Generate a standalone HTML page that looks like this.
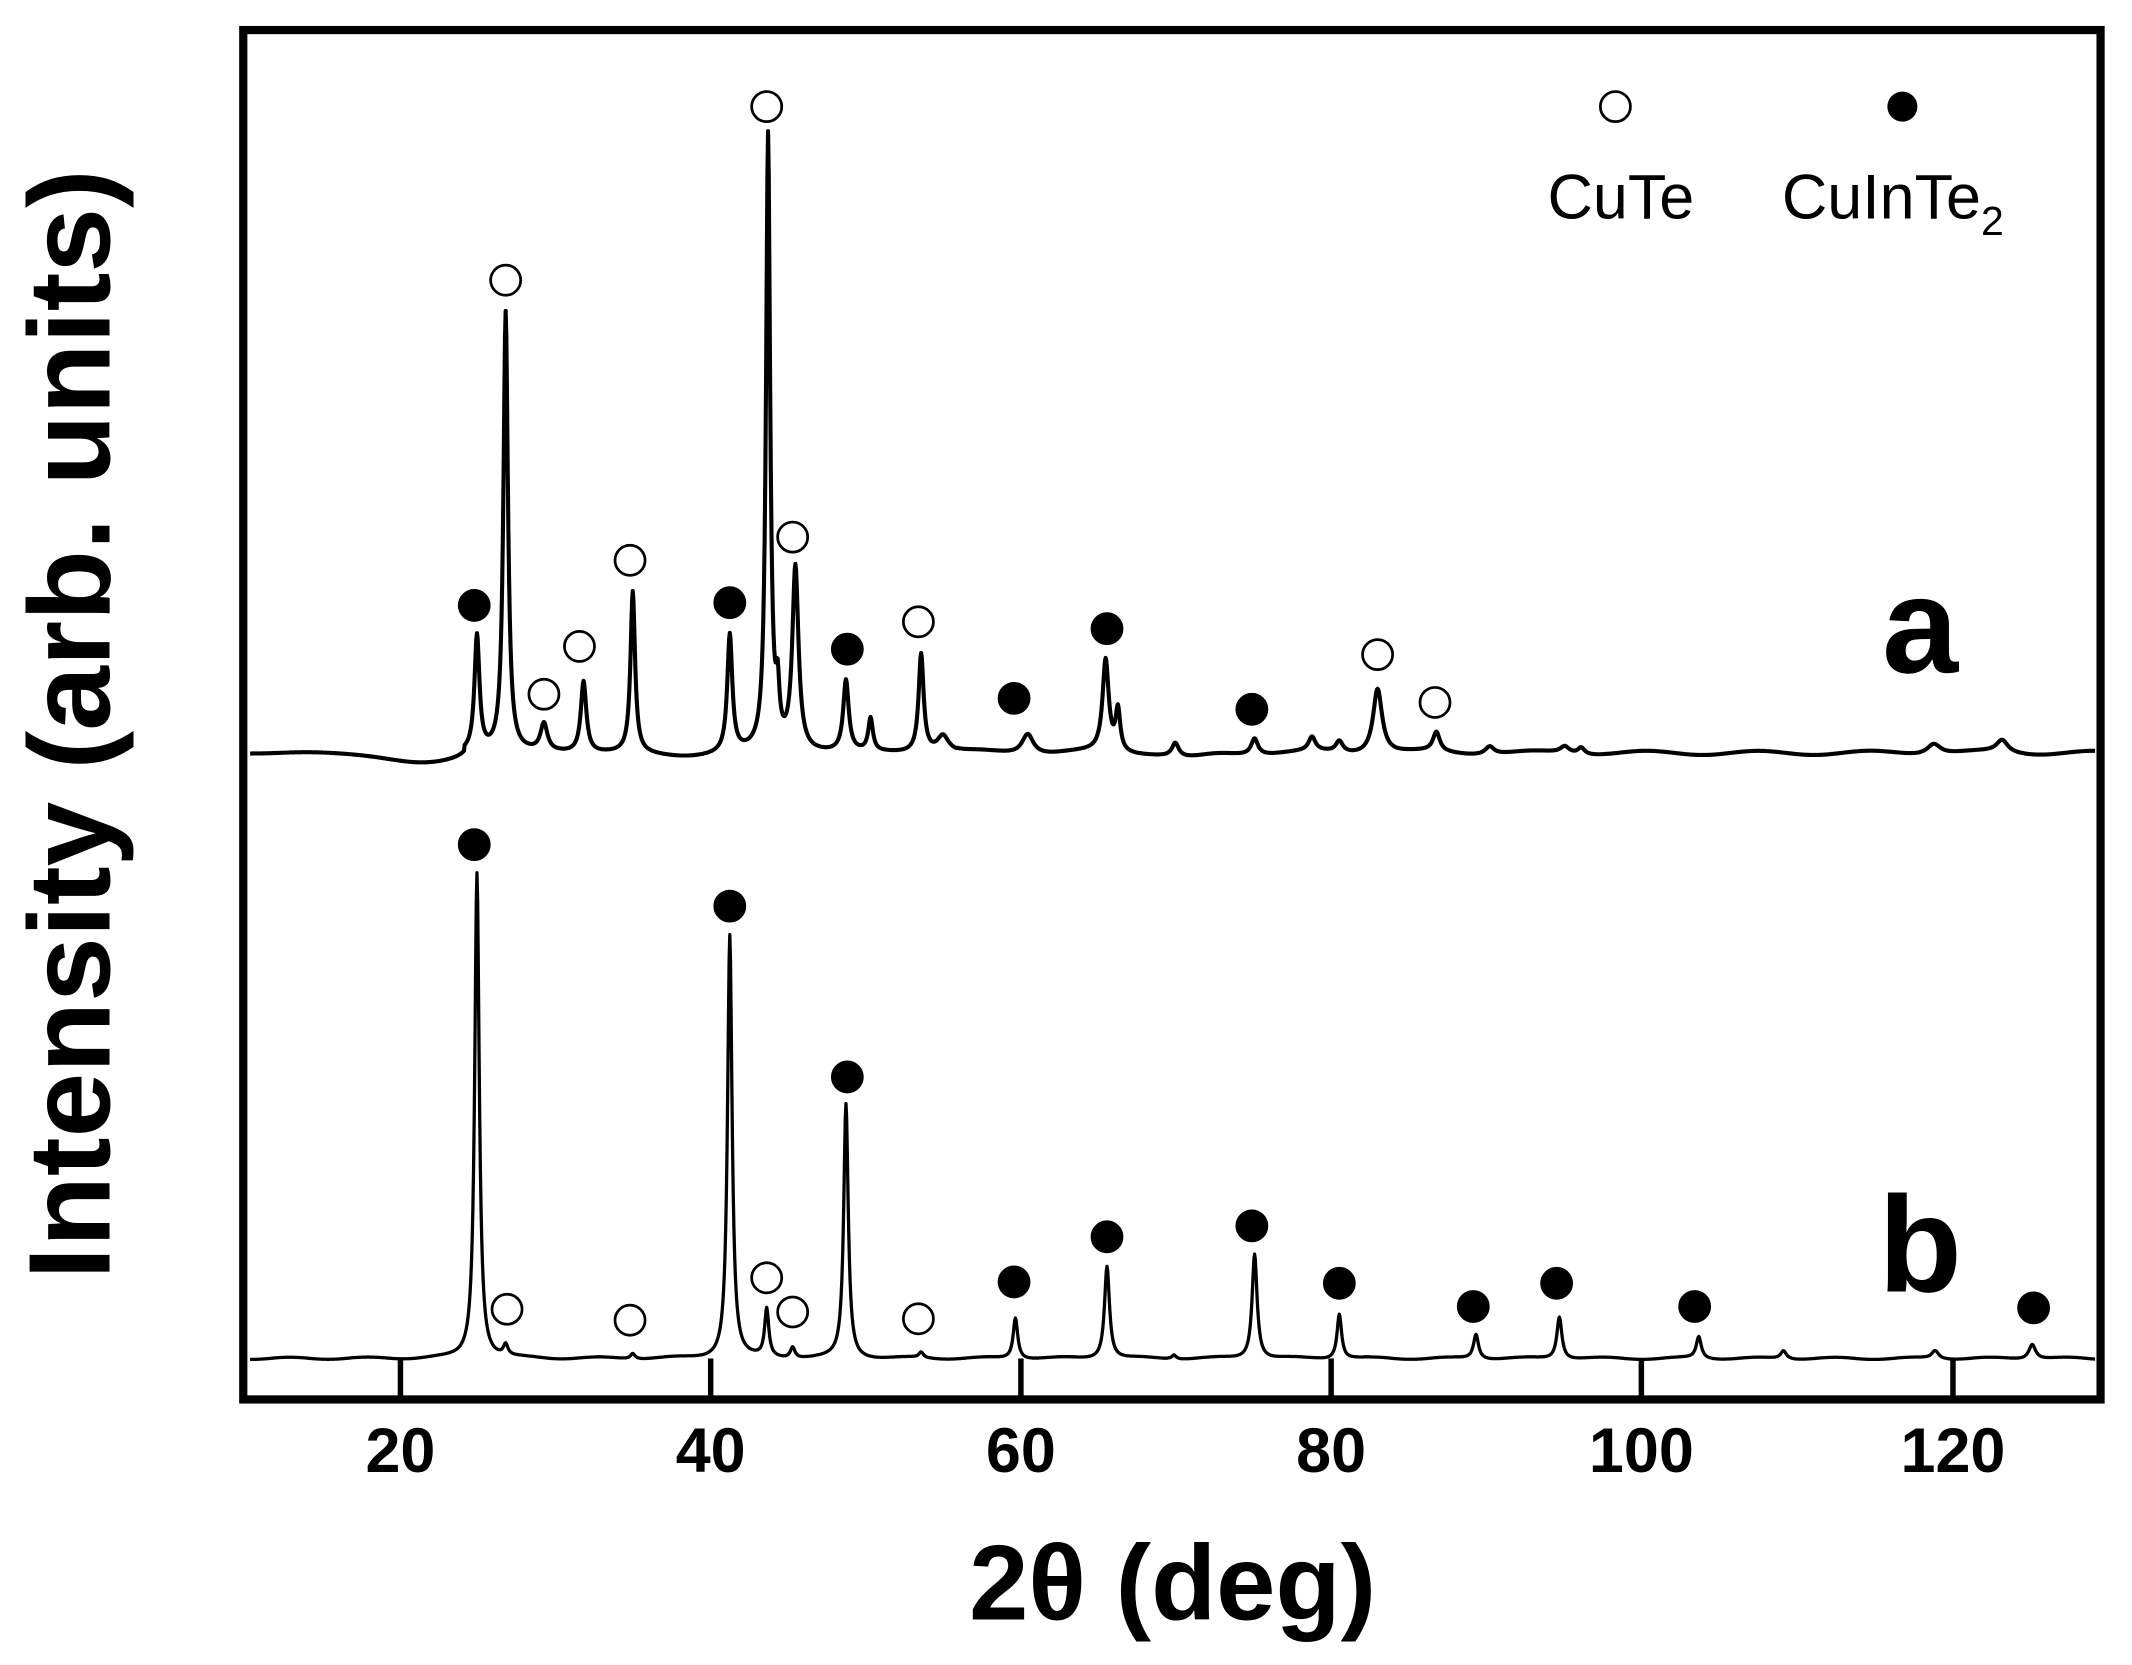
<!DOCTYPE html>
<html><head><meta charset="utf-8"><style>
html,body{margin:0;padding:0;background:#fff}
svg{display:block}
text{font-family:"Liberation Sans",Arial,sans-serif}
</style></head><body>
<svg id="s" width="2132" height="1665" viewBox="0 0 1560 1218.3" xmlns="http://www.w3.org/2000/svg">
<rect x="0" y="0" width="1560" height="1218.3" fill="#fff"/>
<path id="pa" d="" fill="none" stroke="#000" stroke-width="3" stroke-linejoin="round"/>
<path id="pb" d="" fill="none" stroke="#000" stroke-width="2.4" stroke-linejoin="round"/>
<g id="mk" stroke="#000" stroke-width="2"></g>
<rect x="178" y="22" width="1359" height="1002" fill="none" stroke="#000" stroke-width="6"/>
<g stroke="#000" stroke-width="4">
<line x1="293" y1="1024" x2="293" y2="994"/>
<line x1="520" y1="1024" x2="520" y2="994"/>
<line x1="747" y1="1024" x2="747" y2="994"/>
<line x1="974" y1="1024" x2="974" y2="994"/>
<line x1="1201" y1="1024" x2="1201" y2="994"/>
<line x1="1429" y1="1024" x2="1429" y2="994"/>
</g>
<g font-size="46" font-weight="bold" text-anchor="middle">
<text x="293" y="1077">20</text>
<text x="520" y="1077">40</text>
<text x="747" y="1077">60</text>
<text x="974" y="1077">80</text>
<text x="1201" y="1077">100</text>
<text x="1429" y="1077">120</text>
</g>
<text x="858" y="1185" font-size="78" font-weight="bold" text-anchor="middle">2θ (deg)</text>
<text transform="translate(80,530) rotate(-90)" font-size="85" font-weight="bold" text-anchor="middle">Intensity (arb. units)</text>
<circle cx="1182" cy="78" r="11" fill="#fff" stroke="#000" stroke-width="2"/>
<circle cx="1392" cy="78" r="11" fill="#000"/>
<text x="1186" y="160" font-size="46" text-anchor="middle">CuTe</text>
<text x="1385" y="160" font-size="46" text-anchor="middle">CuInTe<tspan font-size="30" dy="12">2</tspan></text>
<text x="1405" y="492" font-size="100" font-weight="bold" text-anchor="middle">a</text>
<text x="1405" y="945" font-size="100" font-weight="bold" text-anchor="middle">b</text>
</svg>
<script>
function build(base, peaks, bfn){
  var d="";
  for(var x=183;x<=1533;x+=0.5){
    var y=base+(bfn?bfn(x):0);
    for(var i=0;i<peaks.length;i++){var p=peaks[i];var t=(x-p[0])/p[2];y-=p[1]/(1+t*t);}
    d+=(x==183?"M":"L")+x.toFixed(1)+" "+y.toFixed(1);
  }
  return d;
}
var A=[[349,85,2.2],[370,322,2],[398,20,3],[427,52,2.4],[463,118,2],[534,86,2.2],[562,450,1.8],[569,35,1.5],[582,134,2.7],[619,52,2.4],[637,24,2],[674,72,2.2],[690,12,5],[752,15,5],[809,67,2.7],[818,30,2],[860,10,3],[918,12,3],[960,10,3],[980,8,3],[1008,48,4],[1051,14,3],[1090,6,4],[1145,5,4],[1157,5,3],[1415,8,6],[1465,9,5]];
var B=[[349,356,2],[370,8,2],[463,4,2],[534,310,2],[561,35,1.8],[580,8,2],[619,186,2],[674,4,2],[743,30,2],[810,68,2.2],[859,3,2],[918,77,2.2],[980,33,2],[1080,18,2.2],[1141,31,2.2],[1243,16,2.2],[1305,6,2.5],[1416,6,3],[1487,11,3]];
function ba(x){
  var v=0;
  if(x<340){v+=8*Math.exp(-Math.pow((x-310)/35,2));}
  v+=3*Math.exp(-Math.pow((x-500)/30,2));
  v+=4*Math.exp(-Math.pow((x-870)/20,2));
  v+=1.5*Math.sin(x/13)*(x>700?1:0.3);
  return v;
}
function bb(x){return 0.8*Math.sin(x/9);}
document.getElementById("pa").setAttribute("d",build(551,A,ba));
document.getElementById("pb").setAttribute("d",build(994,B,bb));
var M=[["f",347,443],["o",370,205],["o",398,508],["o",424,473],["o",461,410],["f",534,441],["o",561,78],["o",580,393],["f",620,475],["o",672,455],["f",742,511],["f",810,460],["f",916,519],["o",1008,479],["o",1050,514],
["f",347,618],["o",371,958],["o",461,966],["f",534,663],["o",561,935],["o",580,960],["f",620,788],["o",672,965],["f",742,938],["f",810,905],["f",916,897],["f",980,939],["f",1078,956],["f",1139,939],["f",1240,956],["f",1488,957]];
var g=document.getElementById("mk"),h="";
M.forEach(function(m){h+='<circle cx="'+m[1]+'" cy="'+m[2]+'" r="11" fill="'+(m[0]=="f"?"#000":"#fff")+'"/>';});
g.innerHTML=h;
</script>
</body></html>
